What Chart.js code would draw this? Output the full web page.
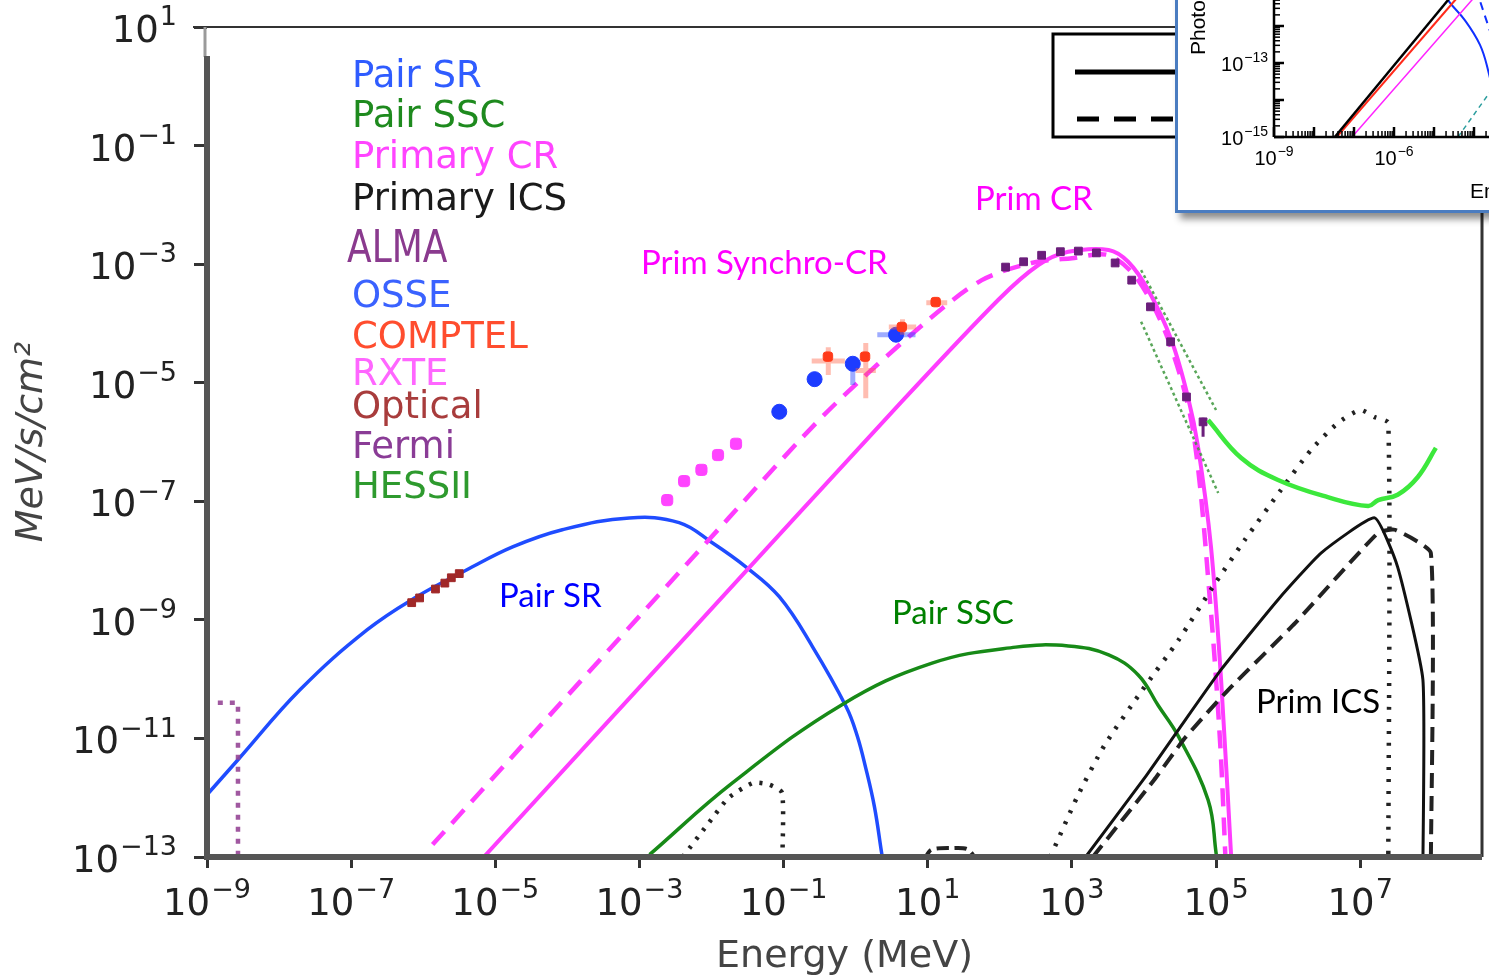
<!DOCTYPE html>
<html>
<head>
<meta charset="utf-8">
<title>Spectral energy distribution</title>
<script src="https://cdn.jsdelivr.net/npm/chart.js@4.4.1/dist/chart.umd.min.js"></script>
<style>
  html, body { margin: 0; padding: 0; background: #fff; }
  #wrap { position: relative; width: 1489px; height: 980px; overflow: hidden; }
  #sed { position: absolute; left: 0; top: 0; }
  #insetBox { position: absolute; left: 1175px; top: -150px; width: 420px; height: 357px;
    background: #fff; border: 3px solid #4a7cc0; box-shadow: 5px 6px 7px rgba(0,0,0,0.45); }
  #inset { position: absolute; left: 0; top: 0; }
</style>
</head>
<body>
<div id="wrap">
  <canvas id="sed" width="1489" height="980"></canvas>
  <div id="insetBox"><canvas id="inset" width="400" height="357"></canvas></div>
</div>
<script>
// all values are [log10 E (MeV), log10 E^2 dN/dE (MeV/s/cm^2)]
var pairSR = [[-9.00,-11.95],[-8.57,-11.36],[-7.71,-10.18],[-6.78,-9.17],[-6.09,-8.61],[-5.40,-8.16],
  [-4.76,-7.77],[-4.07,-7.48],[-3.14,-7.28],[-2.45,-7.36],[-1.99,-7.70],[-1.52,-8.11],[-1.06,-8.61],
  [-0.60,-9.45],[-0.13,-10.47],[0.02,-10.95],[0.14,-11.50],[0.26,-12.15],[0.36,-12.93],[0.42,-13.4]];
var pairSSC = [[-2.86,-12.96],[-1.71,-11.75],[-0.19,-10.43],[1.06,-9.73],[2.22,-9.46],[2.95,-9.44],
  [3.51,-9.59],[3.92,-9.93],[4.20,-10.45],[4.48,-10.97],[4.89,-12.04],[5.00,-12.93],[5.02,-13.2]];
var primCR = [[-5.16,-13.00],[-2.30,-9.21],[0.60,-5.37],[1.98,-3.60],[2.54,-3.01],[2.95,-2.79],
  [3.51,-2.76],[3.78,-2.96],[4.06,-3.44],[4.38,-4.28],[4.61,-5.24],[4.75,-6.08],[4.93,-7.77],
  [5.07,-10.01],[5.21,-13.0]];
var primSynchroCR = [[-5.87,-12.79],[-1.76,-7.28],[-0.37,-5.46],[1.01,-3.94],[1.75,-3.27],[2.44,-2.98],
  [3.00,-2.90],[3.51,-2.85],[3.92,-3.27],[4.34,-4.28],[4.68,-5.80],[4.93,-8.88],[5.06,-11.14],[5.13,-13.0]];
var icsSolid = [[3.19,-13.0],[4.03,-11.63],[4.48,-10.85],[5.07,-9.84],[5.86,-8.66],[6.46,-7.87],
  [7.20,-7.28],[7.52,-8.11],[7.87,-10.01],[7.87,-13.2]];
var icsDashed = [[3.29,-13.0],[4.14,-11.70],[4.57,-10.99],[5.17,-10.18],[6.10,-9.05],[7.25,-7.53],
  [7.48,-7.48],[7.98,-7.87],[7.98,-13.2]];
var icsDotted = [[2.70,-13.0],[3.08,-11.97],[3.45,-11.12],[3.98,-10.18],[4.48,-9.34],[4.99,-8.38],
  [5.40,-7.65],[5.90,-6.81],[6.32,-6.13],[6.69,-5.68],[7.00,-5.46],[7.20,-5.58],[7.39,-5.68],[7.39,-13.2]];
var icsLowDotted = [[-2.40,-13.0],[-2.06,-12.46],[-1.76,-12.00],[-1.42,-11.75],[-1.20,-11.78],
  [-1.02,-11.92],[-1.02,-13.2]];
var icsLowDashed = [[0.95,-13.05],[1.05,-12.88],[1.35,-12.85],[1.55,-12.87],[1.68,-13.05]];
var hessUpper = [[3.96,-3.10],[5.00,-5.46]];
var hessLower = [[3.96,-3.97],[5.03,-6.86]];
var almaLimit = [[-8.85,-10.40],[-8.57,-10.40],[-8.57,-13.3]];
var fermi = [[2.08,-3.05],[2.33,-2.96],[2.58,-2.85],[2.84,-2.79],[3.09,-2.78],[3.34,-2.81],[3.60,-2.98],
  [3.83,-3.27],[4.09,-3.72],[4.37,-4.31],[4.59,-5.24],[4.82,-5.66]];
var fermiErr = [[4.82,4.82,-5.59,-5.91]];
var osse = [[-1.06,-5.49],[-0.57,-4.94],[-0.04,-4.68],[0.56,-4.19]];
var osseErr = [[-0.04,-0.04,-4.62,-5.04],[0.30,0.83,-4.19,-4.19]];
var comptel = [[-0.385,-4.56],[0.13,-4.56],[0.64,-4.06],[1.11,-3.64]];
// [x low, x high, y low, y high]
var comptelErr = [[-0.61,-0.15,-4.40,-4.87],[0.00,0.28,-4.33,-5.26],[0.46,0.84,-3.93,-4.19],[0.98,1.27,-3.58,-3.72]];
var rxte = [[-2.615,-6.98],[-2.38,-6.66],[-2.14,-6.47],[-1.91,-6.22],[-1.66,-6.03]];
var optical = [[-6.16,-8.71],[-6.05,-8.63],[-5.83,-8.48],[-5.70,-8.38],[-5.61,-8.29],[-5.50,-8.22]];
var sketchLimit = [[4.89,-5.63],[5.35,-6.27],[5.86,-6.64],[6.55,-6.93],[7.11,-7.08],[7.25,-6.98],
  [7.52,-6.89],[7.80,-6.59],[8.05,-6.10]];

var xTickExps = [-9, -7, -5, -3, -1, 1, 3, 5, 7];
var yTickExps = [1, -1, -3, -5, -7, -9, -11, -13];

var legendNames = ['Pair SR', 'Pair SSC', 'Primary CR', 'Primary ICS', 'ALMA', 'OSSE', 'COMPTEL', 'RXTE', 'Optical', 'Fermi', 'HESSII'];
var legendColors = ['#2f5cff', '#1e8a1e', '#ff44ff', '#1a1a1a', '#8a3a8e', '#3a62ff', '#ff4d2e', '#ff66ff', '#a83c3c', '#8a3c96', '#2e9a2e'];

// inset: [log10 E, log10 flux]
var insetBlack = [[-7.48,-15.0],[-3.0,-9.14]];
var insetRed = [[-7.43,-15.0],[-3.0,-9.46]];
var insetMagenta = [[-7.05,-15.0],[-3.0,-10.0]];
var insetBlue = [[-5.2,-10.3],[-4.65,-11.30],[-4.23,-11.84],[-3.85,-12.51],[-3.65,-13.19],[-3.4,-14.4]];
var insetBlueDash = [[-3.95,-11.0],[-3.55,-12.3]];
var insetTeal = [[-4.40,-15.0],[-3.65,-13.86],[-3.2,-13.2]];

Chart.defaults.font.family = 'DejaVu Sans';

function toPts(arr) {
  return arr.map(function (p) { return { x: Math.pow(10, p[0]), y: Math.pow(10, p[1]) }; });
}

// error bars as broken line segments
function errPts(arr) {
  var out = [];
  arr.forEach(function (e) {
    var xc = (e[0] + e[1]) / 2;
    if (e[0] !== e[1]) {
      var yc = (e[2] + e[3]) / 2;
      out.push({ x: Math.pow(10, e[0]), y: Math.pow(10, yc) }, { x: Math.pow(10, e[1]), y: Math.pow(10, yc) }, { x: Math.pow(10, xc), y: null });
    }
    if (e[2] !== e[3]) {
      out.push({ x: Math.pow(10, xc), y: Math.pow(10, e[2]) }, { x: Math.pow(10, xc), y: Math.pow(10, e[3]) }, { x: Math.pow(10, xc), y: null });
    }
  });
  return out;
}

function curve(data, color, width, dash, tension) {
  return { data: toPts(data), borderColor: color, borderWidth: width, borderDash: dash || [],
    pointRadius: 0, tension: tension || 0, fill: false, borderCapStyle: 'butt' };
}

function markers(data, color, style, radius) {
  return { data: toPts(data), showLine: false, backgroundColor: color, borderColor: color,
    borderWidth: 1, pointStyle: style, pointRadius: radius };
}

function errBars(data, color, width) {
  return { data: errPts(data), borderColor: color, borderWidth: width, pointRadius: 0, spanGaps: false };
}

function line(ctx, x1, y1, x2, y2) {
  ctx.beginPath(); ctx.moveTo(x1, y1); ctx.lineTo(x2, y2); ctx.stroke();
}

// "10" with a raised exponent, like the mathtext labels
function powLabel(ctx, exp, x, y, size, align, family) {
  var sup = exp < 0 ? '\u2212' + (-exp) : String(exp);
  var small = Math.round(size * 0.72);
  ctx.font = size + 'px "' + family + '"';
  var wb = ctx.measureText('10').width;
  ctx.font = small + 'px "' + family + '"';
  var ws = ctx.measureText(sup).width;
  var w = wb + ws + 1;
  var left = align === 'center' ? x - w / 2 : x - w;
  ctx.textAlign = 'left';
  ctx.textBaseline = 'alphabetic';
  ctx.font = size + 'px "' + family + '"';
  ctx.fillText('10', left, y);
  ctx.font = small + 'px "' + family + '"';
  ctx.fillText(sup, left + wb + 1, y - size * 0.45);
}

function text(ctx, str, x, y, font, color, sy) {
  ctx.save();
  ctx.font = font;
  ctx.fillStyle = color;
  ctx.textAlign = 'left';
  ctx.textBaseline = 'alphabetic';
  ctx.translate(x, y);
  ctx.scale(1, sy || 1);
  ctx.fillText(str, 0, 0);
  ctx.restore();
}

var sedDecor = {
  id: 'sedDecor',
  afterDraw: function (chart) {
    var ctx = chart.ctx, a = chart.chartArea, sx = chart.scales.x, sy = chart.scales.y;
    ctx.save();
    // frame
    ctx.strokeStyle = '#333'; ctx.lineWidth = 2;
    line(ctx, a.left - 14, a.top, a.right, a.top);
    ctx.lineWidth = 3;
    line(ctx, a.right, a.top, a.right, a.bottom);
    ctx.strokeStyle = '#9a9a9a'; ctx.lineWidth = 3;
    line(ctx, a.left - 2, a.top, a.left - 2, 57);
    ctx.strokeStyle = '#555'; ctx.lineWidth = 6;
    line(ctx, a.left, 56, a.left, a.bottom + 3);
    line(ctx, a.left - 3, a.bottom, a.right, a.bottom);

    // tick labels
    ctx.fillStyle = '#222';
    xTickExps.forEach(function (e) {
      powLabel(ctx, e, sx.getPixelForValue(Math.pow(10, e)), a.bottom + 58, 37, 'center', 'DejaVu Sans');
    });
    yTickExps.forEach(function (e) {
      powLabel(ctx, e, a.left - 30, sy.getPixelForValue(Math.pow(10, e)) + 15, 37, 'right', 'DejaVu Sans');
    });

    // text legend
    var base = [87, 127, 168, 210, 262, 307, 348, 385, 418, 458, 498];
    legendNames.forEach(function (n, i) {
      if (n === 'ALMA') text(ctx, n, 347, base[i], '36px "DejaVu Sans"', legendColors[i], 1.25);
      else text(ctx, n, 352, base[i], '37px "DejaVu Sans"', legendColors[i]);
    });

    // line-style key box (mostly under the inset)
    ctx.strokeStyle = '#000'; ctx.lineWidth = 3;
    ctx.strokeRect(1053, 34, 320, 103);
    ctx.lineWidth = 5;
    line(ctx, 1075, 72, 1360, 72);
    ctx.setLineDash([22, 15]);
    line(ctx, 1077, 119, 1360, 119);
    ctx.setLineDash([]);

    // curve names
    var f = '33px Lato';
    text(ctx, 'Prim CR', 975, 210, f, '#ff00ff');
    text(ctx, 'Prim Synchro-CR', 641, 274, f, '#ff00ff');
    text(ctx, 'Pair SR', 499, 607, f, '#0000ff');
    text(ctx, 'Pair SSC', 892, 624, f, '#008000');
    text(ctx, 'Prim ICS', 1256, 713, f, '#000');
    ctx.restore();
  }
};

var magenta = '#ff3cff';

new Chart(document.getElementById('sed'), {
  type: 'line',
  data: {
    datasets: [
      curve(sketchLimit, '#3ce83c', 4.5, null, 0.4),
      markers(fermi, '#6b1e7b', 'rect', 5.5),
      errBars(fermiErr, '#6b1e7b', 3),
      markers(comptel, '#ff3a1a', 'rectRounded', 5.5),
      errBars(comptelErr, 'rgba(255,90,60,0.4)', 5),
      markers(osse, '#1d3cff', 'circle', 7.5),
      errBars(osseErr, 'rgba(40,70,255,0.45)', 5),
      markers(rxte, '#ff44ff', 'rectRounded', 6.5),
      markers(optical, '#a02828', 'rect', 5.5),
      curve(hessUpper, 'rgba(60,150,60,0.85)', 2.5, [3, 3]),
      curve(hessLower, 'rgba(60,150,60,0.85)', 2.5, [3, 3]),
      curve(almaLimit, 'rgba(150,70,150,0.9)', 4.5, [5, 7]),
      curve(icsSolid, '#111', 3, null, 0.15),
      curve(icsDashed, '#222', 4, [15, 8], 0.15),
      curve(icsDotted, '#222', 4.5, [3, 9], 0.2),
      curve(icsLowDotted, '#222', 4.5, [3, 8], 0.2),
      curve(icsLowDashed, '#222', 4, [12, 6], 0.3),
      curve(pairSSC, '#178a17', 3.5, null, 0.4),
      curve(primSynchroCR, magenta, 4.5, [18, 11], 0.3),
      curve(primCR, magenta, 4, null, 0.3),
      curve(pairSR, '#1f4cff', 3.5, null, 0.4)
    ]
  },
  options: {
    responsive: false,
    devicePixelRatio: 1,
    animation: false,
    layout: { autoPadding: false, padding: { top: 27, right: 7, left: 0, bottom: 0 } },
    plugins: { legend: { display: false }, tooltip: { enabled: false } },
    scales: {
      x: {
        type: 'logarithmic',
        min: 1e-9,
        max: Math.pow(10, 8.69),
        afterBuildTicks: function (s) { s.ticks = xTickExps.map(function (e) { return { value: Math.pow(10, e) }; }); },
        afterFit: function (s) { s.height = 123; },
        ticks: { callback: function () { return ''; } },
        grid: { drawOnChartArea: false, tickLength: 11, lineWidth: 3, color: '#333' },
        border: { display: false },
        title: { display: true, text: 'Energy (MeV)', color: '#444', font: { size: 38 }, padding: { top: 0, bottom: 0 } }
      },
      y: {
        type: 'logarithmic',
        min: 1e-13,
        max: 10,
        afterBuildTicks: function (s) { s.ticks = yTickExps.map(function (e) { return { value: Math.pow(10, e) }; }); },
        afterFit: function (s) { s.width = 207; },
        ticks: { callback: function () { return ''; } },
        grid: { drawOnChartArea: false, tickLength: 13, lineWidth: 3, color: '#333' },
        border: { display: false },
        title: { display: true, text: 'MeV/s/cm\u00b2', color: '#444', font: { size: 38, style: 'italic' }, padding: { top: 9, bottom: 0 } }
      }
    }
  },
  plugins: [sedDecor]
});

// inset panel
var insetDecor = {
  id: 'insetDecor',
  afterDraw: function (chart) {
    var ctx = chart.ctx, a = chart.chartArea, sx = chart.scales.x, sy = chart.scales.y;
    ctx.save();
    ctx.strokeStyle = '#000'; ctx.lineWidth = 2.5;
    line(ctx, a.left, 0, a.left, a.bottom);
    line(ctx, a.left, a.bottom, a.right, a.bottom);
    var e, m, p;
    for (e = -9; e < -2; e++) {
      for (m = 1; m < 10; m++) {
        p = sx.getPixelForValue(m * Math.pow(10, e));
        ctx.lineWidth = m === 1 ? 2.5 : 1.5;
        line(ctx, p, a.bottom, p, a.bottom - (m === 1 ? 10 : 6));
      }
    }
    for (e = -15; e < -9; e++) {
      for (m = 1; m < 10; m++) {
        p = sy.getPixelForValue(m * Math.pow(10, e));
        ctx.lineWidth = m === 1 ? 2.5 : 1.5;
        line(ctx, a.left, p, a.left + (m === 1 ? 10 : 6), p);
      }
    }
    ctx.fillStyle = '#000';
    [-9, -6].forEach(function (v) {
      powLabel(ctx, v, sx.getPixelForValue(Math.pow(10, v)), a.bottom + 28, 20, 'center', 'Liberation Sans');
    });
    [-13, -15].forEach(function (v) {
      powLabel(ctx, v, a.left - 6, sy.getPixelForValue(Math.pow(10, v)) + 8, 20, 'right', 'Liberation Sans');
    });
    ctx.font = '21px "Liberation Sans"';
    ctx.save();
    ctx.translate(27, 202);
    ctx.rotate(-Math.PI / 2);
    ctx.textAlign = 'left';
    ctx.fillText('Photon', 0, 0);
    ctx.restore();
    ctx.textAlign = 'left';
    ctx.fillText('Energy', 292, 345);
    ctx.restore();
  }
};

new Chart(document.getElementById('inset'), {
  type: 'line',
  data: {
    datasets: [
      curve(insetBlack, '#000', 2.5),
      curve(insetRed, '#ff2a1a', 2),
      curve(insetMagenta, '#ff22ff', 1.5),
      curve(insetBlue, '#1030ff', 2, null, 0.4),
      curve(insetBlueDash, '#1030ff', 2, [8, 6]),
      curve(insetTeal, '#2a9d9d', 1.5, [5, 4])
    ]
  },
  options: {
    responsive: false,
    devicePixelRatio: 1,
    animation: false,
    layout: { autoPadding: false, padding: { top: 62, right: 24, left: 0, bottom: 0 } },
    plugins: { legend: { display: false }, tooltip: { enabled: false } },
    scales: {
      x: {
        type: 'logarithmic', min: 1e-9, max: 1e-2,
        afterFit: function (s) { s.height = 73; },
        ticks: { display: false }, grid: { display: false }, border: { display: false }
      },
      y: {
        type: 'logarithmic', min: 1e-15, max: 1e-9,
        afterFit: function (s) { s.width = 96; },
        ticks: { display: false }, grid: { display: false }, border: { display: false }
      }
    }
  },
  plugins: [insetDecor]
});
</script>
</body>
</html>
